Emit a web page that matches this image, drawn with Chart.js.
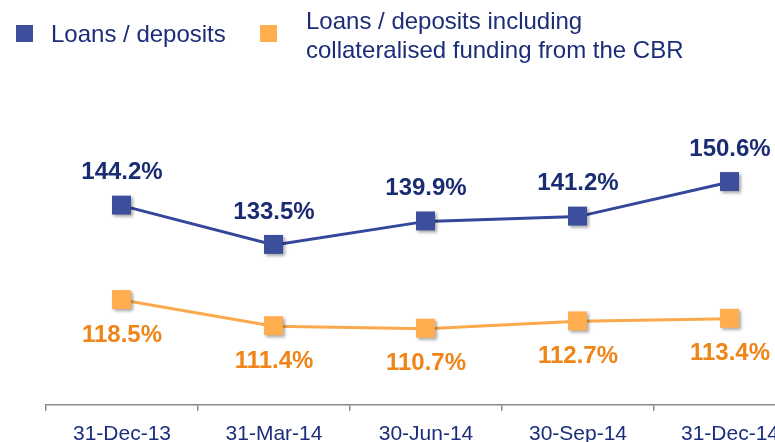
<!DOCTYPE html>
<html>
<head>
<meta charset="utf-8">
<script src="https://cdn.jsdelivr.net/npm/chart.js@4.4.0/dist/chart.umd.min.js"></script>
<style>
  html, body { margin: 0; padding: 0; background: #fff; overflow: hidden; }
  #wrap { position: relative; width: 830px; height: 460px; }
  .legend { position: absolute; font-family: 'Liberation Sans', Arial, sans-serif; font-size: 24px; line-height: 29px; color: #1b2d78; white-space: nowrap; }
  .swatch { position: absolute; width: 17px; height: 17px; }
</style>
</head>
<body>
<div id="wrap">
  <canvas id="ratioChart"></canvas>
  <div class="swatch" style="left:16px; top:25px; background:#3d4e9c;"></div>
  <div class="legend" style="left:51px; top:19px;">Loans / deposits</div>
  <div class="swatch" style="left:260px; top:25px; background:#ffad4f;"></div>
  <div class="legend" style="left:306px; top:6px;">Loans / deposits including<br>collateralised funding from the CBR</div>
</div>
<script>
// data
const dates = ['31-Dec-13', '31-Mar-14', '30-Jun-14', '30-Sep-14', '31-Dec-14'];
const loansDeposits = [144.2, 133.5, 139.9, 141.2, 150.6];
const loansDepositsCbr = [118.5, 111.4, 110.7, 112.7, 113.4];

// square marker with a soft shadow
function makeMarker(color) {
  const c = document.createElement('canvas');
  c.width = 30; c.height = 30;
  const g = c.getContext('2d');
  g.shadowColor = 'rgba(0,0,0,0.35)';
  g.shadowBlur = 3;
  g.shadowOffsetX = 2;
  g.shadowOffsetY = 2;
  g.fillStyle = color;
  g.fillRect(5, 5, 19, 19);
  return c;
}

// value labels above / below the points
const valueLabels = {
  id: 'valueLabels',
  afterDatasetsDraw(chart) {
    const ctx = chart.ctx;
    ctx.save();
    ctx.font = 'bold 24px "Liberation Sans", Arial, sans-serif';
    ctx.textAlign = 'center';
    ctx.textBaseline = 'middle';
    chart.data.datasets.forEach((ds, i) => {
      const meta = chart.getDatasetMeta(i);
      meta.data.forEach((pt, j) => {
        const up = i === 0;
        ctx.fillStyle = up ? '#1b2d72' : '#ef8418';
        ctx.fillText(ds.data[j].toFixed(1) + '%', pt.x, up ? pt.y - 33 : pt.y + 35);
      });
    });
    ctx.restore();
  }
};

const ctx = document.getElementById('ratioChart').getContext('2d');
const ratioChart = new Chart(ctx, {
  type: 'line',
  data: {
    labels: dates,
    datasets: [
      {
        label: 'Loans / deposits',
        data: loansDeposits,
        borderColor: '#34479a',
        borderWidth: 3,
        pointStyle: makeMarker('#3d4e9c'),
        tension: 0,
      },
      {
        label: 'Loans / deposits including collateralised funding from the CBR',
        data: loansDepositsCbr,
        borderColor: '#fba94c',
        borderWidth: 3,
        pointStyle: makeMarker('#ffad4f'),
        tension: 0,
      },
    ],
  },
  options: {
    responsive: true,
    maintainAspectRatio: false,
    animation: false,
    clip: false,
    plugins: {
      legend: { display: false },
      tooltip: { enabled: false },
    },
    layout: {
      padding: { left: 46, right: 24, top: 74, bottom: 2 },
    },
    scales: {
      x: {
        offset: true,
        grid: {
          offset: true,
          drawOnChartArea: false,
          color: '#8a8a8a',
          lineWidth: 1.5,
          tickLength: 6,
        },
        border: { color: '#8a8a8a', width: 1.5 },
        ticks: {
          color: '#1b2d7b',
          padding: 11,
          font: { family: '"Liberation Sans", Arial, sans-serif', size: 21 },
          maxRotation: 0,
          autoSkip: false,
        },
      },
      y: {
        display: false,
        min: 90,
        max: 180,
      },
    },
  },
  plugins: [valueLabels],
});
</script>
</body>
</html>
